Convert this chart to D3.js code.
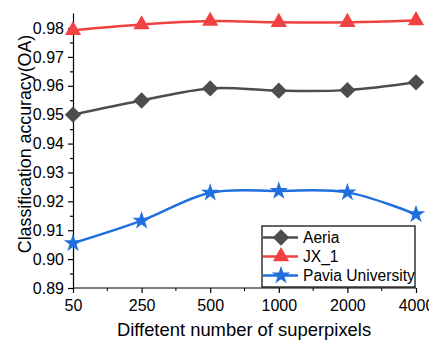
<!DOCTYPE html>
<html>
<head>
<meta charset="utf-8">
<script src="https://cdn.jsdelivr.net/npm/d3@7"></script>
<style>
  body { margin: 0; background: #fff; }
  text { font-family: Arial, "Liberation Sans", sans-serif; fill: #000; }
</style>
</head>
<body>
<div id="chart"></div>
<script>
// data
var superpixels = ["50", "250", "500", "1000", "2000", "4000"];
var aeria = [0.9500, 0.9549, 0.9591, 0.9583, 0.9585, 0.9612];
var jx1 = [0.9792, 0.9812, 0.9824, 0.9820, 0.9820, 0.9826];
var pavia = [0.9055, 0.9133, 0.9230, 0.9236, 0.9231, 0.9155];
var yTicks = [0.89, 0.90, 0.91, 0.92, 0.93, 0.94, 0.95, 0.96, 0.97, 0.98];

var svgWidth = 429, svgHeight = 341;
var margin = { top: 13, right: 12, bottom: 53, left: 73 };
var chartWidth = svgWidth - margin.left - margin.right;
var chartHeight = svgHeight - margin.top - margin.bottom;

var svg = d3.select("#chart").append("svg")
    .attr("width", svgWidth)
    .attr("height", svgHeight);

var chartGroup = svg.append("g")
    .attr("transform", `translate(${margin.left}, ${margin.top})`);

// scales
var xScale = d3.scalePoint()
    .domain(superpixels)
    .range([0, 343]);
var yScale = d3.scaleLinear()
    .domain([0.89, 0.9852])
    .range([chartHeight, 0]);

// minor ticks (short ones)
var yMinor = yTicks.map(t => t + 0.005).filter(t => t < 0.985);
chartGroup.append("g")
    .call(d3.axisLeft(yScale).tickValues(yMinor).tickSize(3).tickFormat(""))
    .call(g => g.select(".domain").remove());

var xMid = [];
for (var i = 0; i < superpixels.length - 1; i++) {
  xMid.push((xScale(superpixels[i]) + xScale(superpixels[i + 1])) / 2);
}
chartGroup.selectAll(".xminor")
    .data(xMid)
    .enter()
    .append("line")
    .attr("x1", d => d).attr("x2", d => d)
    .attr("y1", chartHeight).attr("y2", chartHeight + 3)
    .attr("stroke", "#000");

// axes
var yAxis = d3.axisLeft(yScale).tickValues(yTicks).tickSize(5).tickSizeOuter(0).tickFormat(d3.format(".2f"));
var xAxis = d3.axisBottom(xScale).tickSize(5).tickSizeOuter(0);

chartGroup.append("g")
    .attr("transform", `translate(0, ${chartHeight})`)
    .call(xAxis)
    .call(g => g.select(".domain").attr("d", `M0,0H${chartWidth - 1}`))
    .selectAll("text")
    .attr("dy", "0.95em")
    .style("font-size", "16px");

chartGroup.append("g")
    .call(yAxis)
    .selectAll("text")
    .attr("dx", "-1px")
    .style("font-size", "16px");

chartGroup.selectAll(".domain, .tick line").attr("stroke", "#000").attr("stroke-width", 1.2);

// axis titles
svg.append("text")
    .attr("x", margin.left + 171)
    .attr("y", 336)
    .attr("text-anchor", "middle")
    .style("font-size", "18.4px")
    .text("Diffetent number of superpixels");

svg.append("text")
    .attr("transform", "translate(31, 144) rotate(-90)")
    .attr("text-anchor", "middle")
    .style("font-size", "17.8px")
    .text("Classification accuracy(OA)");

// series
var series = [
  { name: "Aeria", values: aeria, color: "#4d4d4d", symbol: d3.symbolDiamond2, size: 170 },
  { name: "JX_1", values: jx1, color: "#f04341", symbol: d3.symbolTriangle, size: 115 },
  { name: "Pavia University", values: pavia, color: "#1f6fdf", symbol: d3.symbolStar, size: 105 }
];

var line = d3.line()
    .x((d, i) => xScale(superpixels[i]))
    .y(d => yScale(d))
    .curve(d3.curveCatmullRom.alpha(0.5));

series.forEach(s => {
  chartGroup.append("path")
      .datum(s.values)
      .attr("d", line)
      .attr("fill", "none")
      .attr("stroke", s.color)
      .attr("stroke-width", 2.5);

  chartGroup.selectAll(null)
      .data(s.values)
      .enter()
      .append("path")
      .attr("d", d3.symbol().type(s.symbol).size(s.size))
      .attr("transform", (d, i) => `translate(${xScale(superpixels[i])}, ${yScale(d)})`)
      .attr("fill", s.color);
});

// legend
var legend = svg.append("g")
    .attr("transform", "translate(262, 226)");

legend.append("rect")
    .attr("width", 153)
    .attr("height", 61)
    .attr("fill", "#fff")
    .attr("stroke", "#000")
    .attr("stroke-width", 1.2);

series.forEach((s, i) => {
  var y = 11.5 + i * 19;
  legend.append("line")
      .attr("x1", 1).attr("x2", 36)
      .attr("y1", y).attr("y2", y)
      .attr("stroke", s.color)
      .attr("stroke-width", 2.5);
  legend.append("path")
      .attr("d", d3.symbol().type(s.symbol).size(s.size))
      .attr("transform", `translate(19, ${y})`)
      .attr("fill", s.color);
  legend.append("text")
      .attr("x", 41)
      .attr("y", y + 5.5)
      .style("font-size", "15.6px")
      .text(s.name);
});
</script>
</body>
</html>
